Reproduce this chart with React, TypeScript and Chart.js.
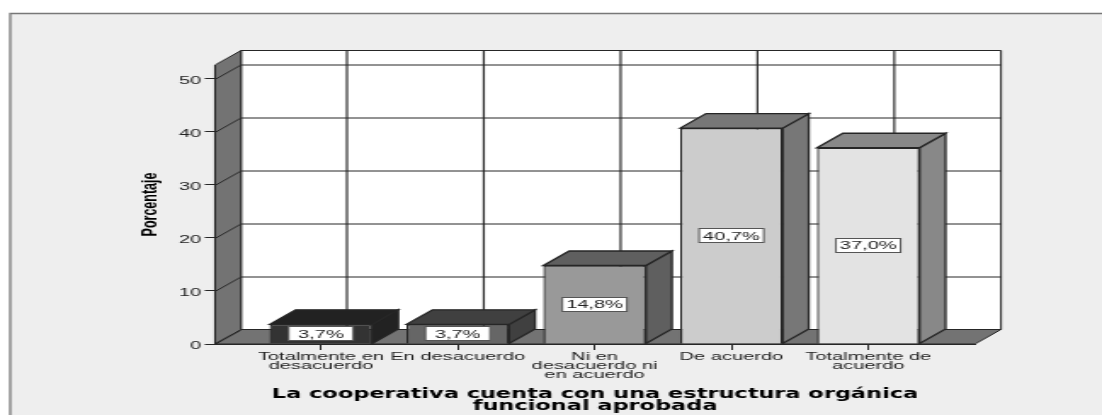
import React, { useEffect, useRef } from "react";
import { Chart, registerables } from "chart.js";

Chart.register(...registerables);

const categories: string[][] = [
  ["Totalmente en", "desacuerdo"],
  ["En desacuerdo"],
  ["Ni en", "desacuerdo ni", "en acuerdo"],
  ["De acuerdo"],
  ["Totalmente de", "acuerdo"],
];
const positions = [0, 1, 2, 3, 4];
const percentages = [3.7, 3.7, 14.8, 40.7, 37.0];
const yTicks = [0, 10, 20, 30, 40, 50];
const frontColors = ["#333333", "#666666", "#999999", "#cccccc", "#e3e3e3"];
const depthColors = ["#222222", "#404040", "#5f5f5f", "#777777", "#888888"];

const W = 648;
const H = 415;
const SX = 1102 / W;
const DX = 26 / 1.7;
const DY = 14.5;
const FONT = "'Liberation Sans', Arial, sans-serif";
const LINE = "#262626";

function poly(ctx: CanvasRenderingContext2D, pts: number[][], fill: string, stroke = LINE, lw = 1.3) {
  ctx.beginPath();
  pts.forEach((p, i) => (i ? ctx.lineTo(p[0], p[1]) : ctx.moveTo(p[0], p[1])));
  ctx.closePath();
  ctx.fillStyle = fill;
  ctx.fill();
  ctx.strokeStyle = stroke;
  ctx.lineWidth = lw;
  ctx.stroke();
}

const scene = {
  id: "scene",
  beforeDraw(chart: any) {
    const { ctx, chartArea: a, scales } = chart;
    ctx.save();
    ctx.fillStyle = "#ffffff";
    ctx.fillRect(0, 0, W, H);
    ctx.fillStyle = "#eeeeee";
    ctx.fillRect(6, 13, W, H);
    ctx.strokeStyle = "#777777";
    ctx.lineWidth = 1.3;
    ctx.beginPath();
    ctx.moveTo(6, H);
    ctx.lineTo(6, 13.5);
    ctx.lineTo(W, 13.5);
    ctx.stroke();

    const bx0 = a.left + DX, bx1 = a.right + DX, by0 = a.top - DY, by1 = a.bottom - DY;
    poly(ctx, [[bx0, by0], [bx1, by0], [bx1, by1], [bx0, by1]], "#ffffff", LINE, 1);
    poly(ctx, [[a.left, a.top], [bx0, by0], [bx0, by1], [a.left, a.bottom]], "#737373", LINE, 1);
    poly(ctx, [[a.left, a.bottom], [bx0, by1], [bx1, by1], [a.right, a.bottom]], "#737373", LINE, 1);

    ctx.strokeStyle = LINE;
    ctx.lineWidth = 1;
    yTicks.forEach((v) => {
      const y = Math.round(scales.y.getPixelForValue(v)) + 0.5;
      ctx.beginPath();
      ctx.moveTo(a.left, y);
      ctx.lineTo(bx0, y - DY);
      if (v > 0) ctx.lineTo(bx1, y - DY);
      ctx.stroke();
    });
    ctx.lineWidth = 1.15;
    positions.forEach((v) => {
      const x = scales.x.getPixelForValue(v) + DX;
      ctx.beginPath();
      ctx.moveTo(x, by0);
      ctx.lineTo(x, by1);
      ctx.stroke();
    });
    ctx.restore();
  },
  afterDatasetsDraw(chart: any) {
    const { ctx } = chart;
    const bars = chart.getDatasetMeta(0).data;
    ctx.save();
    bars.forEach((b: any, i: number) => {
      const { x, y, width, base } = b.getProps(["x", "y", "width", "base"], true);
      const l = x - width / 2, r = x + width / 2;
      poly(ctx, [[r, y], [r + DX, y - DY], [r + DX, base - DY], [r, base]], depthColors[i]);
      poly(ctx, [[l, y], [l + DX, y - DY], [r + DX, y - DY], [r, y]], depthColors[i]);
      const cy = (y + base) / 2;
      const bw = 38, bh = 15;
      ctx.fillStyle = "#ffffff";
      ctx.strokeStyle = "#555555";
      ctx.lineWidth = 1;
      ctx.fillRect(x - bw / 2, Math.round(cy - bh / 2), bw, bh);
      ctx.strokeRect(x - bw / 2, Math.round(cy - bh / 2) + 0.5, bw, bh - 1);
      ctx.fillStyle = "#222222";
      ctx.font = `11.8px ${FONT}`;
      ctx.textAlign = "center";
      ctx.textBaseline = "middle";
      ctx.fillText(percentages[i].toFixed(1).replace(".", ",") + "%", x, cy + 0.5);
    });
    ctx.restore();
  },
};

export default function App() {
  const ref = useRef<HTMLCanvasElement>(null);
  useEffect(() => {
    const chart = new Chart(ref.current as HTMLCanvasElement, {
      type: "bar",
      data: {
        datasets: [
          {
            data: positions.map((p, i) => ({ x: p, y: percentages[i] })),
            backgroundColor: frontColors,
            borderColor: LINE,
            borderWidth: 1.3,
            barPercentage: 0.75,
            categoryPercentage: 1,
          },
        ],
      } as any,
      options: {
        animation: false,
        responsive: false,
        layout: { padding: { top: 65, right: W - 975 / SX, left: 0, bottom: 0 } },
        plugins: { legend: { display: false }, tooltip: { enabled: false } },
        scales: {
          x: {
            type: "linear",
            offset: false,
            min: -0.774,
            max: 4.78,
            afterBuildTicks: (s: any) => {
              s.ticks = positions.map((value) => ({ value }));
            },
            afterFit: (s: any) => {
              s.height = 71;
            },
            grid: { offset: false, drawOnChartArea: false, drawTicks: true, tickLength: 6, color: LINE },
            border: { display: true, color: LINE },
            ticks: {
              autoSkip: false,
              maxRotation: 0,
              padding: 2,
              color: "#222222",
              font: { family: FONT, size: 11.8, lineHeight: 0.76 },
              callback: (v: any) => categories[v as number] ?? "",
            },
            title: {
              display: true,
              text: ["La cooperativa cuenta con una estructura orgánica", "funcional aprobada"],
              color: "#000000",
              font: { family: "'DejaVu Sans', sans-serif", size: 13.2, weight: "bold", lineHeight: 0.92 },
              padding: { top: 0, bottom: 2 },
            },
          },
          y: {
            min: 0,
            max: 52.6,
            afterBuildTicks: (s: any) => {
              s.ticks = yTicks.map((value) => ({ value }));
            },
            afterFit: (s: any) => {
              s.width = 215 / SX;
            },
            grid: { drawOnChartArea: false, drawTicks: true, tickLength: 6, color: LINE },
            border: { display: true, color: LINE },
            ticks: { padding: 2, labelOffset: 2, color: "#222222", font: { family: FONT, size: 11.8 } },
            title: {
              display: true,
              text: "Porcentaje",
              color: "#000000",
              font: { family: "'Liberation Sans Narrow', 'Liberation Sans', sans-serif", size: 12.5, weight: "bold" },
              padding: { top: 81, bottom: 0 },
            },
          },
        },
      },
      plugins: [scene],
    } as any);
    return () => chart.destroy();
  }, []);
  return (
    <div style={{ position: "absolute", left: 0, top: 0, width: 1102, height: H, overflow: "hidden" }}>
      <canvas
        ref={ref}
        width={W}
        height={H}
        style={{ transform: `scaleX(${SX})`, transformOrigin: "0 0", display: "block" }}
      />
    </div>
  );
}
